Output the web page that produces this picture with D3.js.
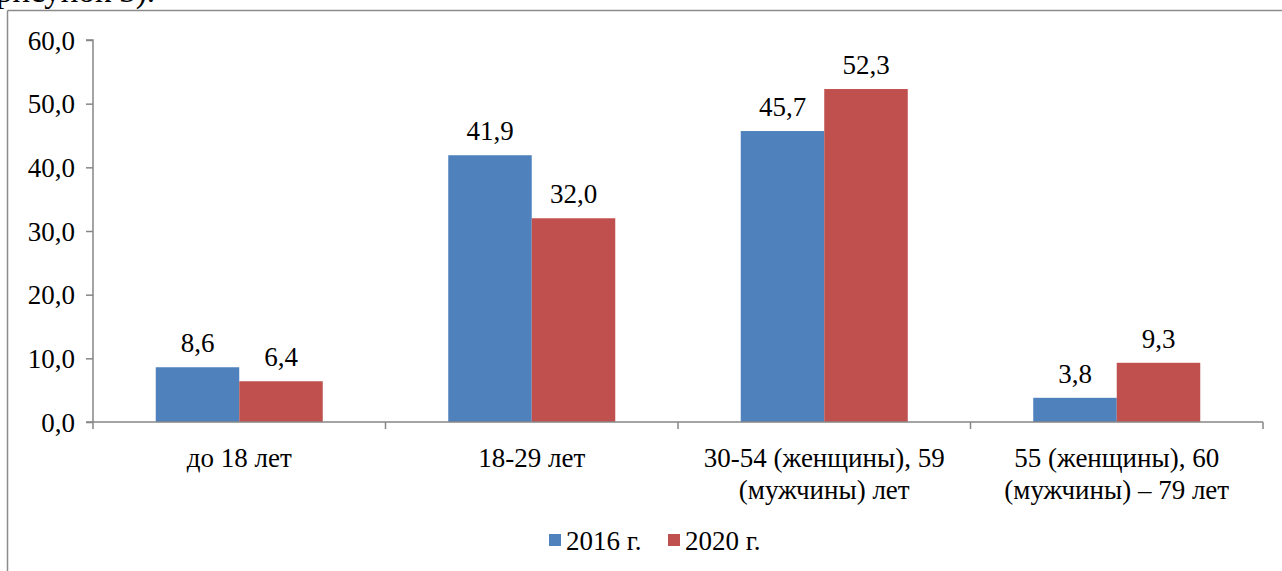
<!DOCTYPE html>
<html><head><meta charset="utf-8">
<script src="https://cdn.jsdelivr.net/npm/d3@7"></script>
<style>
html,body{margin:0;padding:0;background:#fff;overflow:hidden}
svg text{font-family:"Liberation Serif","Times New Roman",Tinos,"DejaVu Serif",serif !important;fill:#000}
</style></head>
<body><svg id="c" width="1282" height="571" font-family="Liberation Serif, Times New Roman, DejaVu Serif, serif"></svg>
<script>
const categories = [["до 18 лет"], ["18-29 лет"], ["30-54 (женщины), 59", "(мужчины) лет"], ["55 (женщины), 60", "(мужчины) – 79 лет"]];
const seriesNames = ["2016 г.", "2020 г."];
const values2016 = [8.6, 41.9, 45.7, 3.8];
const values2020 = [6.4, 32.0, 52.3, 9.3];
const yTicks = [0, 10, 20, 30, 40, 50, 60];
const colors = ["#4F81BD", "#C0504D"];

const svg = d3.select("#c");
const fmt = v => d3.format(".1f")(v).replace(".", ",");
const FS = "27px";

// cut-off caption text at top
svg.append("text").attr("x", -4).attr("y", 2).style("font-size", "33px").text("рисунок 3).");

// chart frame (top and left edges visible)
svg.append("line").attr("x1", 7.5).attr("x2", 1282).attr("y1", 10.5).attr("y2", 10.5).attr("stroke", "#8c8c8c").attr("stroke-width", 1.5);
svg.append("line").attr("x1", 7.5).attr("x2", 7.5).attr("y1", 10.5).attr("y2", 571).attr("stroke", "#8c8c8c").attr("stroke-width", 1.5);

const x0 = 93, x1 = 1263, yTop = 40, yBot = 422;
const y = d3.scaleLinear().domain([0, 60]).range([yBot, yTop]);
const xb = d3.scaleBand().domain(d3.range(categories.length)).range([x0, x1]).paddingInner(0).paddingOuter(0);
const bw = 83.5;

// y axis
const yAxis = d3.axisLeft(y).tickValues(yTicks).tickSize(7).tickFormat(fmt);
const ga = svg.append("g").attr("transform", `translate(${x0},0)`).call(yAxis);
ga.attr("font-family", null).attr("font-size", null);
ga.select(".domain").attr("stroke", "#868686").attr("stroke-width", 1.5).attr("d", `M-7,${yTop}H0V${yBot}`);
ga.selectAll(".tick line").attr("stroke", "#868686").attr("stroke-width", 1.5);
ga.selectAll(".tick text").attr("x", -18).attr("dy", "0.34em").style("font-size", FS).attr("fill", "#000");

// bars
const series = [values2016, values2020];
series.forEach((vals, s) => {
  svg.append("g").selectAll("rect").data(vals).join("rect")
    .attr("x", (d, i) => xb(i) + xb.bandwidth() / 2 - bw + s * bw)
    .attr("y", d => y(d))
    .attr("width", bw)
    .attr("height", d => y(0) - y(d))
    .attr("fill", colors[s]);
  svg.append("g").selectAll("text").data(vals).join("text")
    .attr("x", (d, i) => xb(i) + xb.bandwidth() / 2 - bw / 2 + s * bw)
    .attr("y", d => y(d) - 15)
    .attr("text-anchor", "middle")
    .style("font-size", FS)
    .text(d => fmt(d));
});

// x axis
const gx = svg.append("g");
gx.append("line").attr("x1", x0 - 7).attr("x2", x1).attr("y1", yBot).attr("y2", yBot).attr("stroke", "#868686").attr("stroke-width", 1.5);
const tickXs = d3.range(categories.length + 1).map(i => i < categories.length ? xb(i) : x1);
gx.selectAll("line.t").data(tickXs).join("line").attr("class", "t")
  .attr("x1", d => d).attr("x2", d => d).attr("y1", yBot).attr("y2", yBot + 7)
  .attr("stroke", "#868686").attr("stroke-width", 1.5);
categories.forEach((lines, i) => {
  const t = gx.append("text").attr("text-anchor", "middle").style("font-size", FS)
    .attr("x", xb(i) + xb.bandwidth() / 2).attr("y", 467);
  lines.forEach((l, j) => t.append("tspan").attr("x", xb(i) + xb.bandwidth() / 2).attr("y", 467 + j * 32).text(l));
});

// legend
const legX = [549, 668];
seriesNames.forEach((n, s) => {
  svg.append("rect").attr("x", legX[s]).attr("y", 534).attr("width", 12).attr("height", 12).attr("fill", colors[s]);
  svg.append("text").attr("x", legX[s] + 17).attr("y", 550).style("font-size", FS).text(n);
});
</script></body></html>
